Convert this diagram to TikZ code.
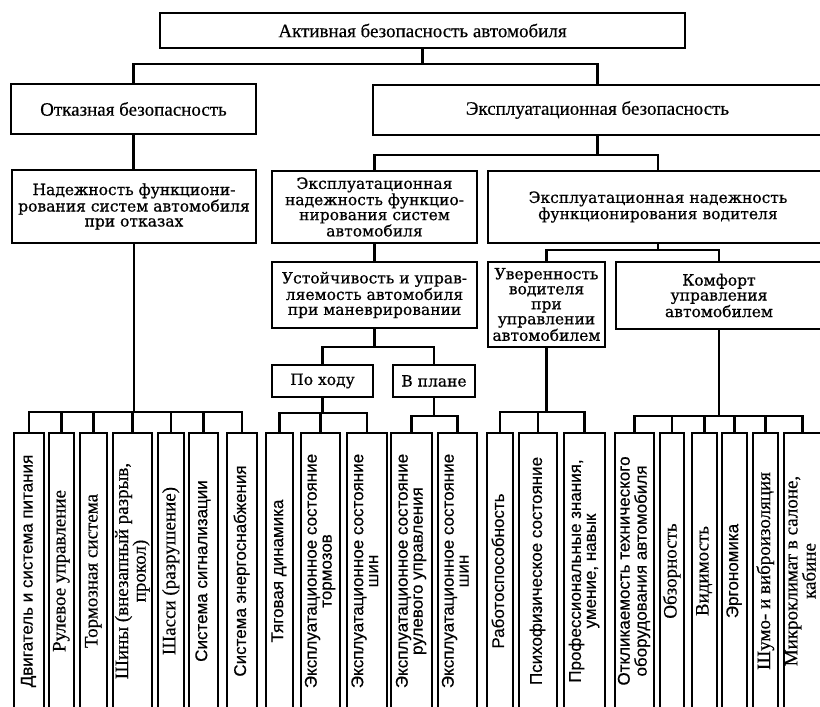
\documentclass[tikz,border=0pt]{standalone}
\usepackage{fontspec}
\usepackage{graphicx}
\setmainfont{Liberation Serif}[FakeBold=0.4]
\setsansfont{Liberation Sans}[FakeBold=0.4]
\newfontfamily\boxfont{DejaVu Serif}[FakeBold=0.6]
\usepackage{tikz}
\usetikzlibrary{positioning, calc}
\newcommand{\vlabel}[1]{\rotatebox{90}{\begin{tabular}{@{}c@{}}#1\end{tabular}}}
\tikzset{
  topbox/.style={rectangle, draw, fill=white, line width=2.8pt, inner sep=0pt,
    font=\fontsize{19}{21}\selectfont},
  lvlbox/.style={rectangle, draw, fill=white, line width=2.5pt, inner sep=0pt,
    font=\fontsize{19}{21}\selectfont},
  midbox/.style={rectangle, draw, fill=white, line width=2.5pt, inner sep=0pt,
    align=center, font=\boxfont\fontsize{15.5}{15}\selectfont},
  leafbox/.style={rectangle, draw, fill=white, line width=2.3pt, inner sep=0pt,
    minimum height=276pt, font=\sffamily\fontsize{17}{15}\selectfont},
  leafserif/.style={leafbox, font=\rmfamily\fontsize{19}{15}\selectfont},
  conn/.style={line width=2.1pt}
}

\begin{document}
\begin{tikzpicture}[x=1pt, y=-1pt]
  \useasboundingbox (0,0) rectangle (820,707);
  \clip (0,0) rectangle (820,707);
  \fill[white] (0,0) rectangle (820,707);

  % upper levels
  \node[topbox, minimum width=525pt, minimum height=35pt] (root) at (422.5,30.5) {Активная безопасность автомобиля};
  \node[lvlbox, minimum width=245pt, minimum height=50pt] (otkaz) at (133.5,109) {Отказная безопасность};
  \node[lvlbox, minimum width=449pt, minimum height=50pt] (eksp) at (597.5,110) {Эксплуатационная безопасность};
  \node[midbox, minimum width=244pt, minimum height=73pt] (nadezh) at (134,206.5) {Надежность функциони-\\рования систем автомобиля\\при отказах};
  \node[midbox, minimum width=205pt, minimum height=72pt] (ensys) at (374.5,207) {Эксплуатационная\\надежность функцио-\\нирования систем\\автомобиля};
  \node[midbox, minimum width=340pt, minimum height=72pt] (endrv) at (658,207) {Эксплуатационная надежность\\функционирования водителя};
  \node[midbox, minimum width=205pt, minimum height=66pt] (ustoi) at (374.5,295) {Устойчивость и управ-\\ляемость автомобиля\\при маневрировании};
  \node[midbox, minimum width=117pt, minimum height=85pt] (uver) at (546.5,304.5) {Уверенность\\водителя\\при\\управлении\\автомобилем};
  \node[midbox, minimum width=206pt, minimum height=67pt] (komf) at (719,295.5) {Комфорт\\управления\\автомобилем};
  \node[midbox, minimum width=101pt, minimum height=32pt] (pohod) at (322.5,381) {По ходу};
  \node[midbox, minimum width=82pt, minimum height=32pt] (vplan) at (434,381) {В плане};

  % bottom row
  \node[leafbox, minimum width=30pt] (l1) at (29,571) {\vlabel{Двигатель и система питания}};
  \node[leafserif, minimum width=25pt] (l2) at (61.5,571) {\vlabel{Рулевое управление}};
  \node[leafserif, minimum width=27pt] (l3) at (93.5,571) {\vlabel{Тормозная система}};
  \node[leafserif, minimum width=39pt] (l4) at (132.5,571) {\vlabel{Шины (внезапный разрыв,\\прокол)}};
  \node[leafserif, minimum width=26pt] (l5) at (171,571) {\vlabel{Шасси (разрушение)}};
  \node[leafbox, minimum width=29pt] (l6) at (203.5,571) {\vlabel{Система сигнализации}};
  \node[leafbox, minimum width=30pt] (l7) at (242,571) {\vlabel{Система энергоснабжения}};
  \node[leafbox, minimum width=27pt] (l8) at (279.5,571) {\vlabel{Тяговая динамика}};
  \node[leafbox, minimum width=39pt] (l9) at (320.5,571) {\vlabel{Эксплуатационное состояние\\тормозов}};
  \node[leafbox, minimum width=40pt] (l10) at (367,571) {\vlabel{Эксплуатационное состояние\\шин}};
  \node[leafbox, minimum width=41pt] (l11) at (411.5,571) {\vlabel{Эксплуатационное состояние\\рулевого управления}};
  \node[leafbox, minimum width=39pt] (l12) at (457.5,571) {\vlabel{Эксплуатационное состояние\\шин}};
  \node[leafbox, minimum width=26pt] (l13) at (500,571) {\vlabel{Работоспособность}};
  \node[leafbox, minimum width=38pt] (l14) at (538,571) {\vlabel{Психофизическое состояние}};
  \node[leafbox, minimum width=41pt] (l15) at (584.5,571) {\vlabel{Профессиональные знания,\\умение, навык}};
  \node[leafbox, minimum width=39pt] (l16) at (634.5,571) {\vlabel{Откликаемость технического\\оборудования автомобиля}};
  \node[leafserif, minimum width=24pt] (l17) at (672,571) {\vlabel{Обзорность}};
  \node[leafserif, minimum width=25pt] (l18) at (704.5,571) {\vlabel{Видимость}};
  \node[leafbox, minimum width=25pt] (l19) at (734.5,571) {\vlabel{Эргономика}};
  \node[leafserif, minimum width=25pt] (l20) at (765.5,571) {\vlabel{Шумо- и виброизоляция}};
  \node[leafserif, minimum width=37pt] (l21) at (802.5,571) {\vlabel{Микроклимат в салоне,\\кабине}};

  % bus levels
  \coordinate (bus0) at (0,64);
  \coordinate (bus1) at (0,155);
  \coordinate (bus2) at (0,250);
  \coordinate (bus3) at (0,347);
  \coordinate (busA) at (0,412);
  \coordinate (busB) at (0,413);
  \coordinate (busC) at (0,416);

  % connectors
  \foreach \c in {otkaz,eksp}
    \draw[conn] (root.south) |- (\c.north |- bus0) -- (\c.north);
  \draw[conn] (otkaz.south) -- (otkaz.south |- nadezh.north);
  \foreach \c in {ensys,endrv}
    \draw[conn] (eksp.south) |- (\c.north |- bus1) -- (\c.north);
  \draw[conn] (ensys.south) -- (ustoi.north);
  \foreach \c in {uver,komf}
    \draw[conn] (endrv.south) |- (\c.north |- bus2) -- (\c.north);
  \foreach \c in {pohod,vplan}
    \draw[conn] (ustoi.south) |- (\c.north |- bus3) -- (\c.north);
  \foreach \i in {1,...,7}
    \draw[conn] (nadezh.south) |- (l\i.north |- busA) -- (l\i.north);
  \foreach \i in {8,9,10}
    \draw[conn] (pohod.south) |- (l\i.north |- busB) -- (l\i.north);
  \foreach \i in {11,12}
    \draw[conn] (vplan.south) |- (l\i.north |- busC) -- (l\i.north);
  \foreach \i in {13,14,15}
    \draw[conn] (uver.south) |- (l\i.north |- busA) -- (l\i.north);
  \foreach \i in {16,...,21}
    \draw[conn] (komf.south) |- (l\i.north |- busC) -- (l\i.north);
\end{tikzpicture}
\end{document}
